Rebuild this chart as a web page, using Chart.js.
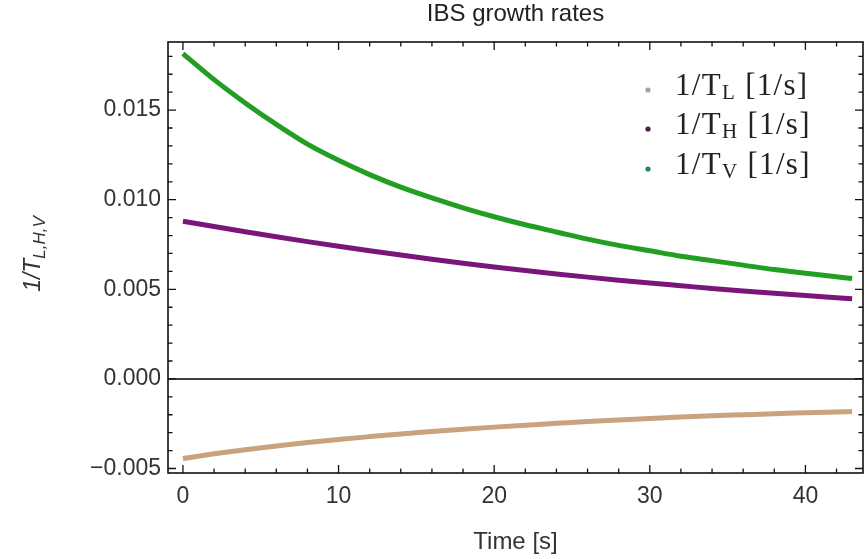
<!DOCTYPE html>
<html>
<head>
<meta charset="utf-8">
<title>IBS growth rates</title>
<script src="https://cdn.jsdelivr.net/npm/chart.js@4"></script>
<style>
  html, body { margin: 0; padding: 0; background: #fff; }
  #wrap { width: 868px; height: 559px; position: relative; }
</style>
</head>
<body>
<div id="wrap"><canvas id="ibsChart" width="868" height="559"></canvas></div>
<script>
// time axis samples [s]
const times = [0, 2, 4, 6, 8, 10, 12, 14, 16, 18, 20, 22, 24, 26, 28, 30, 32, 34, 36, 38, 40, 42, 43];

// growth rates [1/s]
const rateL = [-0.00444, -0.00418, -0.00395, -0.00374, -0.00355, -0.00338, -0.00322, -0.00307, -0.00294, -0.00281,
  -0.00269, -0.00258, -0.00248, -0.00238, -0.00229, -0.00221, -0.00213, -0.00206, -0.00200, -0.00194, -0.00189, -0.00184, -0.00182];
const rateH = [0.00880, 0.00850, 0.00821, 0.00793, 0.00766, 0.00740, 0.00715, 0.00691, 0.00668, 0.00646,
  0.00625, 0.00605, 0.00586, 0.00568, 0.00551, 0.00535, 0.00520, 0.00505, 0.00491, 0.00478, 0.00465, 0.00453, 0.00447];
const rateV = [0.01815, 0.0167, 0.0154, 0.0142, 0.0131, 0.0122, 0.0114, 0.0107, 0.0101, 0.00955,
  0.00905, 0.0086, 0.0082, 0.0078, 0.00745, 0.00715, 0.00685, 0.0066, 0.00635, 0.0061, 0.0059, 0.0057, 0.0056];

const seriesNames = ['L', 'H', 'V'];
const xTickValues = [0, 10, 20, 30, 40];
const yTickValues = [-0.005, 0.000, 0.005, 0.010, 0.015];

const colL = 'rgb(201,162,126)';
const colH = 'rgb(122,22,122)';
const colV = 'rgb(34,158,34)';
const legendDots = ['rgb(176,160,146)', 'rgb(70,30,70)', 'rgb(40,130,90)'];

const sans = '"Liberation Sans", Arial, sans-serif';
const serif = '"Liberation Serif", "Times New Roman", serif';

const toXY = (ys) => times.map((t, i) => ({ x: t, y: ys[i] }));

// frame, inward ticks, zero axis, title, axis label and legend (Mathematica look)
const decorPlugin = {
  id: 'decor',
  afterDatasetsDraw(chart) {
    const ctx = chart.ctx;
    const a = chart.chartArea;
    const xs = chart.scales.x, ys = chart.scales.y;
    ctx.save();

    // zero line
    ctx.strokeStyle = '#000';
    ctx.lineWidth = 1.5;
    const y0 = ys.getPixelForValue(0);
    ctx.beginPath();
    ctx.moveTo(a.left, y0);
    ctx.lineTo(a.right, y0);
    ctx.stroke();

    // frame
    ctx.strokeStyle = '#111';
    ctx.lineWidth = 1.6;
    ctx.strokeRect(a.left, a.top, a.right - a.left, a.bottom - a.top);

    // x ticks top & bottom
    ctx.lineWidth = 1.3;
    for (let v = 0; v <= xs.max; v += 2) {
      const px = xs.getPixelForValue(v);
      const len = v % 10 === 0 ? 8 : 4.5;
      ctx.beginPath();
      ctx.moveTo(px, a.bottom); ctx.lineTo(px, a.bottom - len);
      ctx.moveTo(px, a.top); ctx.lineTo(px, a.top + len);
      ctx.stroke();
    }
    // y ticks left & right
    for (let k = -5; k <= 18; k++) {
      const py = ys.getPixelForValue(k / 1000);
      const len = k % 5 === 0 ? 8 : 4.5;
      ctx.beginPath();
      ctx.moveTo(a.left, py); ctx.lineTo(a.left + len, py);
      ctx.moveTo(a.right, py); ctx.lineTo(a.right - len, py);
      ctx.stroke();
    }

    // title
    ctx.fillStyle = '#222';
    ctx.font = '24px ' + sans;
    ctx.textAlign = 'center';
    ctx.textBaseline = 'middle';
    ctx.fillText('IBS growth rates', (a.left + a.right) / 2, 14);

    // x axis title
    ctx.font = '24px ' + sans;
    ctx.fillStyle = '#333';
    ctx.fillText('Time [s]', (a.left + a.right) / 2, 542);

    // y axis title, rotated, with subscript
    ctx.save();
    ctx.translate(34, 254);
    ctx.rotate(-Math.PI / 2);
    const mainFont = 'italic 23px ' + sans;
    const subFont = 'italic 17px ' + sans;
    ctx.font = mainFont;
    const wMain = ctx.measureText('1/T').width;
    ctx.font = subFont;
    const wSub = ctx.measureText('L,H,V').width;
    const sx = -(wMain + wSub) / 2;
    ctx.textAlign = 'left';
    ctx.font = mainFont;
    ctx.fillText('1/T', sx, 0);
    ctx.font = subFont;
    ctx.fillText('L,H,V', sx + wMain, 6);
    ctx.restore();

    // legend
    const rows = [87, 126, 166];
    ctx.letterSpacing = '1.3px';
    seriesNames.forEach((name, i) => {
      const yy = rows[i];
      ctx.fillStyle = legendDots[i];
      ctx.beginPath();
      ctx.arc(648, yy + 3, 2.6, 0, Math.PI * 2);
      ctx.fill();
      ctx.fillStyle = '#222';
      ctx.textAlign = 'left';
      ctx.textBaseline = 'middle';
      ctx.font = '31px ' + serif;
      let tx = 675;
      ctx.fillText('1/T', tx, yy);
      tx += ctx.measureText('1/T').width;
      ctx.font = '21px ' + serif;
      ctx.fillText(name, tx, yy + 6);
      tx += ctx.measureText(name).width;
      ctx.font = '31px ' + serif;
      ctx.fillText(' [1/s]', tx, yy);
    });
    ctx.letterSpacing = '0px';

    ctx.restore();
  }
};

const lineDs = (label, data, color) => ({
  label: label,
  data: toXY(data),
  borderColor: color,
  backgroundColor: color,
  borderWidth: 5,
  pointRadius: 0,
  cubicInterpolationMode: 'monotone',
  fill: false
});

new Chart(document.getElementById('ibsChart'), {
  type: 'line',
  data: {
    datasets: [
      lineDs('1/T_L [1/s]', rateL, colL),
      lineDs('1/T_H [1/s]', rateH, colH),
      lineDs('1/T_V [1/s]', rateV, colV)
    ]
  },
  options: {
    responsive: false,
    animation: false,
    layout: { padding: { top: 42, right: 5, left: 0, bottom: 0 } },
    plugins: {
      legend: { display: false },
      title: { display: false },
      tooltip: { enabled: false }
    },
    scales: {
      x: {
        type: 'linear',
        min: -0.96,
        max: 43.7,
        grid: { display: false, drawTicks: false },
        border: { display: false },
        afterBuildTicks: (s) => { s.ticks = xTickValues.map(v => ({ value: v })); },
        afterFit: (s) => { s.height = 86; },
        ticks: {
          padding: 10,
          color: '#333',
          font: { family: sans, size: 23 },
          maxRotation: 0,
          callback: (v) => String(v)
        }
      },
      y: {
        min: -0.00525,
        max: 0.0188,
        grid: { display: false, drawTicks: false },
        border: { display: false },
        afterBuildTicks: (s) => { s.ticks = yTickValues.map(v => ({ value: v })); },
        afterFit: (s) => { s.width = 168; },
        ticks: {
          padding: 7,
          color: '#333',
          font: { family: sans, size: 23 },
          callback: (v) => (v < 0 ? '\u2212' : '') + Math.abs(v).toFixed(3)
        }
      }
    }
  },
  plugins: [decorPlugin]
});
</script>
</body>
</html>
